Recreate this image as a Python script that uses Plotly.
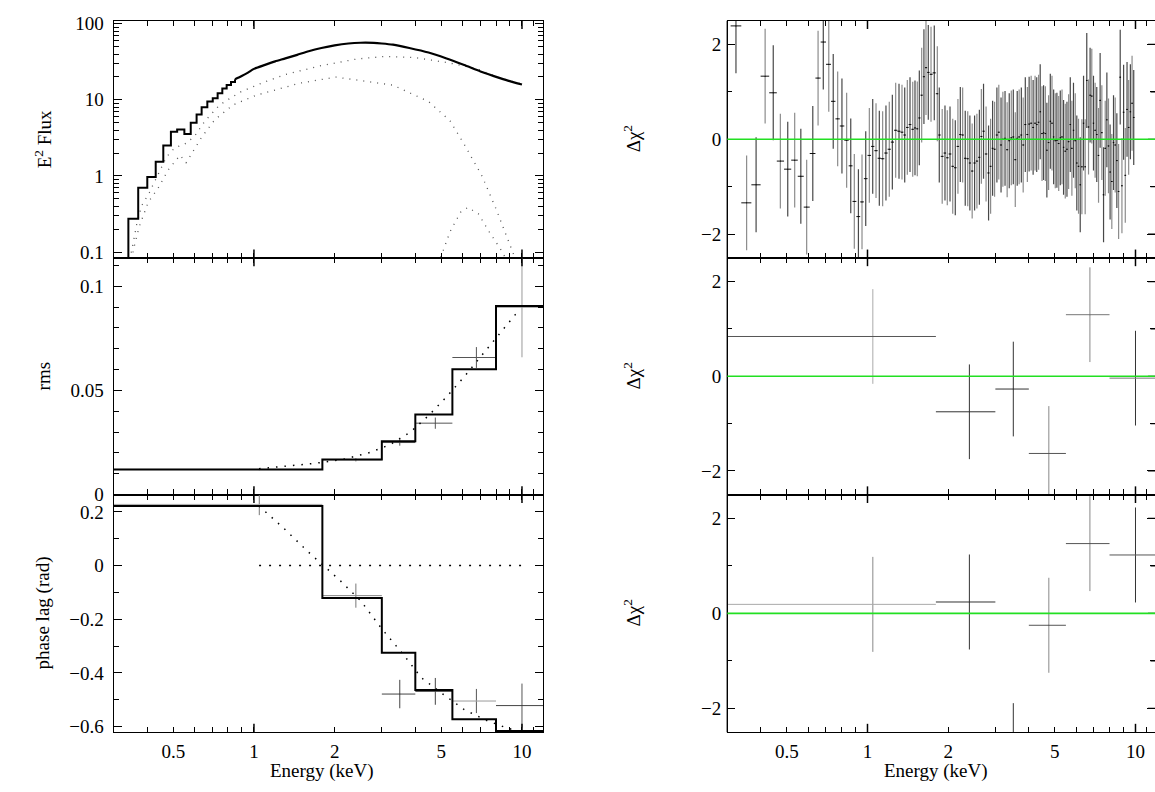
import math
import plotly.graph_objects as go

FONT = "Liberation Serif, Times New Roman, serif"

# ---------------- Top-left panel: E^2 Flux ----------------
flux_step_E = [0.340, 0.340, 0.370, 0.400, 0.430, 0.459, 0.490, 0.517, 0.550, 0.581,
               0.611, 0.638, 0.670, 0.702, 0.732, 0.762, 0.791, 0.821, 0.850]
flux_step_F = [0.05, 0.273, 0.70, 0.966, 1.54, 2.51, 3.80, 4.08, 3.55, 5.0,
               6.41, 7.96, 9.5, 10.5, 12.2, 14.1, 15.6, 17.2, 18.6]
flux_smooth_E = [0.85, 0.9, 0.95, 1.0, 1.1, 1.2, 1.31, 1.45, 1.6, 1.785, 2.0, 2.25,
                 2.5, 2.8, 3.0, 3.3, 3.8, 4.48, 5.2, 6.09, 7.0, 8.28, 9.0, 10.0]
flux_smooth_F = [18.6, 20.5, 22.8, 25.5, 28.8, 32.0, 35.0, 39.0, 43.5, 48.0, 52.0, 55.0,
                 56.2, 56.0, 55.0, 53.0, 48.0, 41.8, 35.2, 28.6, 23.6, 19.3, 17.6, 15.9]
comp1_E = [0.343, 0.350, 0.365, 0.381, 0.407, 0.436, 0.472, 0.507, 0.553, 0.599, 0.656,
           0.746, 0.887, 1.083, 1.31, 1.785, 2.42, 3.1, 3.96, 5.22, 6.7, 8.28, 10.0]
comp1_F = [0.08, 0.105, 0.229, 0.406, 0.603, 0.99, 1.78, 2.35, 2.64, 3.28, 5.26,
           8.6, 12.6, 16.9, 21.5, 28.2, 34.4, 37.2, 36.0, 31.0, 26.0, 19.3, 16.1]
comp2_E = [0.350, 0.355, 0.373, 0.403, 0.440, 0.479, 0.530, 0.558, 0.586, 0.638, 0.715,
           0.837, 1.02, 1.476, 2.02, 3.3, 4.48, 5.39, 6.09, 7.1, 8.0, 9.1, 9.6]
comp2_F = [0.08, 0.107, 0.214, 0.448, 0.70, 1.2, 1.87, 1.49, 1.97, 3.22, 5.5,
           8.6, 11.5, 16.5, 19.9, 15.6, 9.5, 5.3, 2.6, 0.99, 0.37, 0.112, 0.07]
gauss_E = [4.88, 5.39, 5.9, 6.28, 6.88, 7.54, 8.28, 8.93]
gauss_F = [0.07, 0.185, 0.333, 0.386, 0.317, 0.185, 0.112, 0.07]

# ---------------- Binned rms / phase-lag spectra ----------------
bin_lo = [0.3, 1.8, 3.0, 4.0, 5.5, 8.0]
bin_hi = [1.8, 3.0, 4.0, 5.5, 8.0, 12.0]
bin_E = [1.047, 2.4, 3.5, 4.75, 6.76, 10.0]

rms_model = [0.0121, 0.0169, 0.0256, 0.0384, 0.0602, 0.0905]
rms_data = [0.0121, 0.0167, 0.0250, 0.0343, 0.0658, 0.0899]
rms_err = [0.0004, 0.0008, 0.0015, 0.0027, 0.0050, 0.0240]
rms_curve_E = [1.045, 1.31, 1.68, 2.15, 2.67, 3.21, 3.84, 4.48, 5.22, 6.09, 7.1, 8.28, 9.8]
rms_curve = [0.01245, 0.0137, 0.0150, 0.0169, 0.0200, 0.0239, 0.0301, 0.0379, 0.0468,
             0.0566, 0.0671, 0.0777, 0.0889]

lag_model = [0.222, -0.121, -0.325, -0.464, -0.573, -0.617]
lag_data = [0.228, -0.112, -0.479, -0.469, -0.505, -0.522]
lag_err = [0.040, 0.045, 0.053, 0.050, 0.045, 0.082]
lag_curve_E = [1.045, 1.31, 1.58, 1.82, 2.09, 2.51, 3.0, 3.62, 4.21, 5.07, 6.09, 7.32, 8.8, 9.8]
lag_curve = [0.222, 0.1335, 0.0545, 0.0, -0.0545, -0.133, -0.236, -0.333, -0.418, -0.479,
             -0.537, -0.576, -0.606, -0.618]
lag_zero_E = [1.045, 10.0]
lag_zero = [0.0, 0.0]

# ---------------- Residuals (delta chi^2) ----------------
res_rms = [0.84, -0.75, -0.27, -1.63, 1.30, -0.04]
res_lag = [0.19, 0.24, -2.89, -0.25, 1.47, 1.23]
res_err = [1, 1, 1, 1, 1, 1]

res_spec_E = [0.323, 0.354, 0.384, 0.415, 0.445, 0.473, 0.504, 0.535, 0.564, 0.593, 0.625,
              0.654, 0.684, 0.717, 0.745, 0.774, 0.803, 0.836, 0.866, 0.893, 0.925, 0.954,
              0.985, 1.016, 1.046, 1.076, 1.107, 1.139, 1.172, 1.206, 1.238, 1.274, 1.311,
              1.345, 1.377, 1.408, 1.441, 1.475, 1.504, 1.534, 1.561, 1.593, 1.624, 1.653,
              1.686,
              1.726, 1.775, 1.822, 1.853, 1.90, 1.946, 1.985, 2.032, 2.08, 2.126, 2.175,
              2.22, 2.265, 2.316, 2.366, 2.41, 2.458, 2.51, 2.56, 2.615, 2.66, 2.71, 2.77,
              2.83, 2.88, 2.93, 2.98, 3.04, 3.09, 3.15, 3.2, 3.26, 3.32, 3.38, 3.44, 3.5,
              3.56, 3.62, 3.68, 3.75, 3.81, 3.88, 3.95, 4.01, 4.08, 4.15, 4.22, 4.28, 4.35,
              4.41, 4.48, 4.54, 4.61, 4.67, 4.74, 4.81, 4.88, 4.95, 5.02, 5.09, 5.17, 5.24,
              5.32, 5.39, 5.47, 5.55, 5.63, 5.71, 5.79, 5.87, 5.96, 6.04, 6.13, 6.22, 6.31,
              6.4, 6.49, 6.58, 6.68, 6.77, 6.87, 6.97, 7.07, 7.17, 7.28, 7.38, 7.49, 7.6,
              7.71, 7.82, 7.93, 8.04, 8.16, 8.28, 8.4, 8.52, 8.65, 8.77, 8.9, 9.03, 9.16,
              9.3, 9.43, 9.57, 9.71, 9.85]
res_spec = [2.39, -1.34, -0.96, 1.33, 0.98, -0.46, -0.63, -0.44, -0.78, -1.43, -0.30,
            1.29, 2.05, 1.58, 0.80, 0.43, 0.28, -0.02, -0.56, -1.31, -1.63, -1.32,
            -0.83, -0.34, -0.15, -0.24, -0.40, -0.41, -0.29, -0.21, -0.06, 0.19, 0.17,
            0.15, 0.09, 0.25, 0.31, 0.21, 0.24, 0.22, 0.45, 0.93, 1.32, 1.51,
            1.41,
            1.37, 1.40, 0.96, 0.09, -0.36, -0.29, -0.39, -0.31, -0.57, -0.60, -0.15,
            0.10, 0.09, -0.40, -0.41, -0.50, -0.67, -0.50, -0.46, -0.38, 0.06, 0.17, -0.31,
            -0.71, -0.57, -0.19, -0.21, 0.09, 0.15, -0.12, 0.00, 0.02, -0.22, -0.03, 0.03, 0.05,
            -0.43, 0.02, 0.05, 0.09, -0.12, 0.31, 0.10, 0.32, 0.34, 0.25, 0.34, 0.31, 0.36,
            0.58, 0.12, 0.14, 0.12, -0.23, -0.07, 0.38, 0.34, 0.05, -0.03, -0.02, -0.09, 0.03,
            0.05, -0.17, -0.25, -0.21, -0.05, 0.31, -0.19, 0.19, -0.03, -0.50, -0.57, -0.96, -0.58,
            0.34, -0.58, 1.24, 0.26, 0.93, 0.91, 0.34, 0.19, 0.10, -0.34, 0.82, 0.14, -1.17,
            -0.19, 0.41, -0.14, -0.69, -0.89, -0.07, -0.12, -0.45, -1.10, 1.31, -0.98, 0.57, -0.76,
            0.63, 0.25, 0.58, 0.76, 0.46]

x_major = [0.5, 1, 2, 5, 10]
x_major_text = ["0.5", "1", "2", "5", "10"]
x_minor = [0.4, 0.6, 0.7, 0.8, 0.9, 3, 4, 6, 7, 8, 9, 11]
x_long = [1, 10]
res_major = [-2, 0, 2]
res_minor = [-1, 1]

# ---------------- figure ----------------
W, H = 1155, 792
FS = 19
fig = go.Figure()

LEFT_X = [113.8 / W, 543.2 / W]
RIGHT_X = [727.3 / W, 1.0]
ROWS_PX = [(14, 256.7), (256.7, 499), (499, 742)]
ROWS = [[1 - b / H, 1 - t / H] for t, b in ROWS_PX]


def step_xy(lo, hi, vals):
    return lo + [hi[-1]], vals + [vals[-1]]


def cross(xref, yref, xs, ys, yerr, lo, hi, color_h, color_v):
    for i in range(len(xs)):
        fig.add_trace(go.Scatter(
            x=[xs[i]], y=[ys[i]], mode="markers", xaxis=xref, yaxis=yref,
            marker=dict(size=1, color=color_h[i % len(color_h)]),
            error_x=dict(type="data", symmetric=False, array=[hi[i] - xs[i]],
                         arrayminus=[xs[i] - lo[i]], color=color_h[i % len(color_h)],
                         thickness=1, width=0),
            error_y=dict(type="data", array=[yerr[i]], color=color_v[i % len(color_v)],
                         thickness=1, width=0),
            hoverinfo="skip"))


# --- top-left
dot_style = "1px,6px"
for cx, cy in ((comp1_E, comp1_F), (comp2_E, comp2_F), (gauss_E, gauss_F)):
    fig.add_trace(go.Scatter(x=cx, y=cy, mode="lines", xaxis="x", yaxis="y",
                             line=dict(color="#555", width=1.3, dash=dot_style)))
fig.add_trace(go.Scatter(x=flux_step_E, y=flux_step_F, mode="lines", xaxis="x", yaxis="y",
                         line=dict(color="black", width=2, shape="hv")))
fig.add_trace(go.Scatter(x=flux_smooth_E, y=flux_smooth_F, mode="lines", xaxis="x", yaxis="y",
                         line=dict(color="black", width=2.2, shape="spline", smoothing=0.6)))

# --- mid-left (rms)
cross("x2", "y2", bin_E, rms_data, rms_err, bin_lo, bin_hi,
      ["#999", "#888", "#555", "#555", "#555", "#999"], ["#999", "#888", "#555", "#555", "#555", "#999"])
fig.add_trace(go.Scatter(x=rms_curve_E, y=rms_curve, mode="lines", xaxis="x2", yaxis="y2",
                         line=dict(color="black", width=1.5, dash="1.5px,7px")))
sx, sy = step_xy(bin_lo, bin_hi, rms_model)
fig.add_trace(go.Scatter(x=sx, y=sy, mode="lines", xaxis="x2", yaxis="y2",
                         line=dict(color="black", width=2, shape="hv")))

# --- bottom-left (phase lag)
cross("x3", "y3", bin_E, lag_data, lag_err, bin_lo, bin_hi,
      ["#aaa", "#888", "#444", "#444", "#999", "#444"], ["#777", "#777", "#444", "#444", "#555", "#555"])
fig.add_trace(go.Scatter(x=lag_zero_E, y=lag_zero, mode="lines", xaxis="x3", yaxis="y3",
                         line=dict(color="black", width=1.5, dash="2px,8px")))
fig.add_trace(go.Scatter(x=lag_curve_E, y=lag_curve, mode="lines", xaxis="x3", yaxis="y3",
                         line=dict(color="black", width=1.5, dash="1.5px,7px")))
sx, sy = step_xy(bin_lo, bin_hi, lag_model)
fig.add_trace(go.Scatter(x=sx, y=sy, mode="lines", xaxis="x3", yaxis="y3",
                         line=dict(color="black", width=2, shape="hv")))

# --- top-right residuals (contiguous bins between neighbouring channels)
n = len(res_spec_E)
for parity, vcol in ((0, "#484848"), (1, "#8c8c8c")):
    xs, ys, ep, em = [], [], [], []
    for i in range(parity, n, 2):
        e = res_spec_E[i]
        prev_e = res_spec_E[i - 1] if i > 0 else e * e / res_spec_E[i + 1]
        next_e = res_spec_E[i + 1] if i < n - 1 else e * e / res_spec_E[i - 1]
        xs.append(e)
        ys.append(res_spec[i])
        em.append(e - math.sqrt(prev_e * e))
        ep.append(math.sqrt(e * next_e) - e)
    fig.add_trace(go.Scatter(
        x=xs, y=ys, mode="markers", xaxis="x4", yaxis="y4",
        marker=dict(size=1, color="black"),
        error_x=dict(type="data", symmetric=False, array=ep, arrayminus=em,
                     color="#111", thickness=1, width=0),
        error_y=dict(type="data", array=[1] * len(xs), color=vcol, thickness=1.2, width=0),
        hoverinfo="skip"))

# --- mid-right / bottom-right residuals
cross("x5", "y5", bin_E, res_rms, res_err, bin_lo, bin_hi,
      ["#555", "#333", "#333", "#555", "#777", "#777"], ["#aaa", "#333", "#333", "#888", "#888", "#333"])
cross("x6", "y6", bin_E, res_lag, res_err, bin_lo, bin_hi,
      ["#aaa", "#333", "#333", "#555", "#555", "#555"], ["#888", "#333", "#333", "#888", "#888", "#333"])

# ---------------- axes ----------------
tickfont = dict(family=FONT, size=FS, color="black")


def xaxis(domain, anchor, rng, labels):
    return dict(type="log", domain=domain, anchor=anchor, range=rng,
                showline=True, mirror="ticks", linecolor="black", linewidth=1.4,
                ticks="inside", ticklen=5, tickwidth=1.2, tickcolor="black",
                tickmode="array", tickvals=x_major, ticktext=x_major_text,
                showticklabels=labels, tickfont=tickfont, ticklabelstandoff=2,
                minor=dict(ticks="inside", ticklen=5, tickwidth=1.2, tickcolor="black",
                           tickmode="array", tickvals=x_minor, showgrid=False),
                showgrid=False, zeroline=False)


def yaxis(domain, anchor, rng, tv, tt, minor, ytype="linear", showline=True):
    d = dict(type=ytype, domain=domain, anchor=anchor, range=rng,
             showline=showline, mirror="ticks", linecolor="black", linewidth=1.4,
             ticks="inside", ticklen=8, tickwidth=1.2, tickcolor="black",
             tickmode="array", tickvals=tv, ticktext=tt, tickfont=tickfont,
             ticklabelstandoff=5, showgrid=False, zeroline=False)
    d["minor"] = dict(ticks="inside", ticklen=5, tickwidth=1.2, tickcolor="black",
                      showgrid=False, **minor)
    return d


xl = [math.log10(0.3), math.log10(12)]
xr = [-0.5231, 1.0728]
log_minor = [0.2, 0.3, 0.4, 0.5, 0.6, 0.7, 0.8, 0.9, 2, 3, 4, 5, 6, 7, 8, 9,
             20, 30, 40, 50, 60, 70, 80, 90]
MINUS = "\u2212"

layout = dict(
    width=W, height=H, margin=dict(l=0, r=0, t=0, b=0),
    paper_bgcolor="white", plot_bgcolor="white", showlegend=False,
    font=dict(family=FONT, size=FS, color="black"),
    xaxis=xaxis(LEFT_X, "y", xl, False),
    xaxis2=xaxis(LEFT_X, "y2", xl, False),
    xaxis3=xaxis(LEFT_X, "y3", xl, True),
    xaxis4=xaxis(RIGHT_X, "y4", xr, False),
    xaxis5=xaxis(RIGHT_X, "y5", xr, False),
    xaxis6=xaxis(RIGHT_X, "y6", xr, True),
    yaxis=yaxis(ROWS[0], "x", [-1.077, 2.04], [0.1, 1, 10, 100], ["0.1", "1", "10", "100"],
                dict(tickmode="array", tickvals=log_minor), ytype="log"),
    yaxis2=yaxis(ROWS[1], "x2", [0, 0.1136], [0, 0.05, 0.1], ["0", "0.05", "0.1"],
                 dict(dtick=0.01, tick0=0)),
    yaxis3=yaxis(ROWS[2], "x3", [-0.621, 0.2644], [-0.6, -0.4, -0.2, 0, 0.2],
                 [MINUS + "0.6", MINUS + "0.4", MINUS + "0.2", "0", "0.2"],
                 dict(dtick=0.1, tick0=0)),
    yaxis4=yaxis(ROWS[0], "x4", [-2.5, 2.5], res_major, [MINUS + "2", "0", "2"],
                 dict(dtick=1, tick0=0), showline=False),
    yaxis5=yaxis(ROWS[1], "x5", [-2.5, 2.5], res_major, [MINUS + "2", "0", "2"],
                 dict(dtick=1, tick0=0), showline=False),
    yaxis6=yaxis(ROWS[2], "x6", [-2.5, 2.5], res_major, [MINUS + "2", "0", "2"],
                 dict(dtick=1, tick0=0), showline=False),
)
fig.update_layout(**layout)

shapes = []
# long ticks at 1 and 10 keV (top and bottom of every panel)
frac = 8.5 / 242.5
for xa, ya in [("x", "y"), ("x2", "y2"), ("x3", "y3"), ("x4", "y4"), ("x5", "y5"), ("x6", "y6")]:
    for v in x_long:
        for y0, y1 in ((0, frac), (1 - frac, 1)):
            shapes.append(dict(type="line", xref=xa, yref=ya + " domain", x0=v, x1=v,
                               y0=y0, y1=y1, line=dict(color="black", width=1.5)))
# left frame of the right-hand panels, right-edge ticks and green zero lines
right_w = (1.0 - RIGHT_X[0]) * W
for xa, ya in (("x4", "y4"), ("x5", "y5"), ("x6", "y6")):
    shapes.append(dict(type="line", xref=xa + " domain", yref=ya + " domain", x0=0, x1=0,
                       y0=0, y1=1, line=dict(color="black", width=1.4)))
    for tv in res_major + res_minor:
        tl = (7 if tv in res_major else 4.5) / right_w
        shapes.append(dict(type="line", xref=xa + " domain", yref=ya, x0=1 - tl, x1=1,
                           y0=tv, y1=tv, line=dict(color="black", width=1.2)))
    shapes.append(dict(type="line", xref=xa + " domain", yref=ya, x0=0, x1=1,
                       y0=0, y1=0, line=dict(color="#22e022", width=1.6)))
fig.update_layout(shapes=shapes)

ann = []
title_font = dict(family=FONT, size=FS, color="black")
for text, ypx in (("E<sup>2</sup> Flux", 135.4), ("rms", 378), ("phase lag (rad)", 620.5)):
    ann.append(dict(text=text, x=43 / W, y=1 - ypx / H, xref="paper", yref="paper",
                    showarrow=False, textangle=-90, font=title_font,
                    xanchor="center", yanchor="middle"))
for ypx in (135.4, 378, 620.5):
    ann.append(dict(text="\u0394\u03c7<sup>2</sup>", x=632 / W, y=1 - ypx / H, xref="paper",
                    yref="paper", showarrow=False, textangle=-90, font=title_font,
                    xanchor="center", yanchor="middle"))
for xpx in (322, 936):
    ann.append(dict(text="Energy (keV)", x=xpx / W, y=1 - 782 / H, xref="paper", yref="paper",
                    showarrow=False, font=title_font, xanchor="center", yanchor="middle"))
fig.update_layout(annotations=ann)

fig.write_html("out.html")
